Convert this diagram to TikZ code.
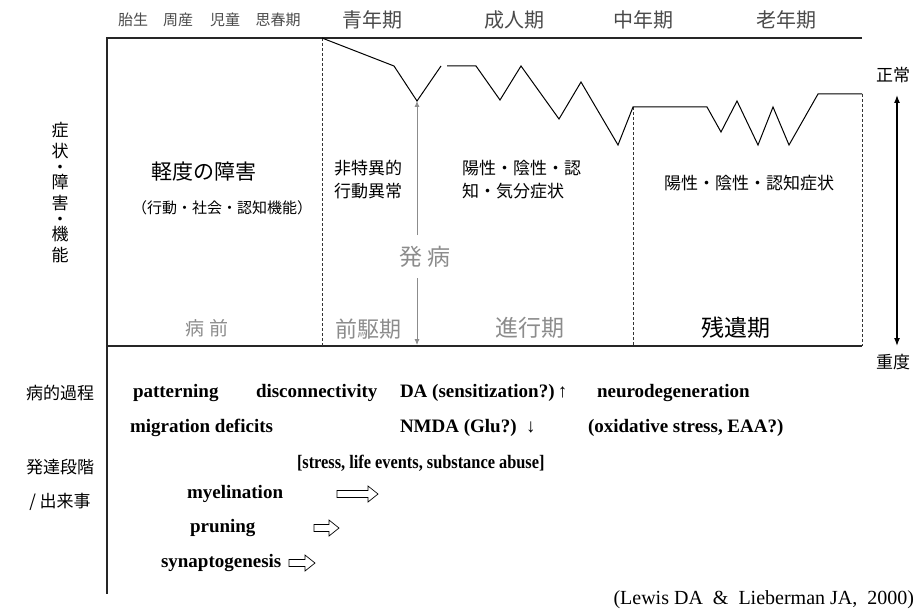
\documentclass[tikz,border=0pt]{standalone}
\usepackage{fontspec}
\setmainfont{Liberation Serif}
\newfontfamily\jpf{Noto Sans CJK JP}
\usetikzlibrary{arrows.meta}
\definecolor{lbl}{HTML}{8C8C8C}
\definecolor{hdr}{HTML}{4A4A4A}
\begin{document}
\begin{tikzpicture}[x=1pt,y=-1pt,
  every node/.style={inner sep=0pt, outer sep=0pt},
  axis/.style={line width=1.1pt, black!85},
  dsh/.style={line width=0.6pt, dash pattern=on 3pt off 2pt, black!80},
  curve/.style={line width=1pt, black},
  hsmall/.style={font=\jpf\fontsize{15}{18}\selectfont, text=hdr},
  hbig/.style={font=\jpf\fontsize{20}{24}\selectfont, text=hdr},
  jt/.style={font=\jpf\fontsize{17}{23}\selectfont},
  jbig/.style={font=\jpf\fontsize{21}{24}\selectfont},
  jphase/.style={font=\jpf\fontsize{22}{26}\selectfont, text=lbl},
  side/.style={font=\jpf\fontsize{17}{20}\selectfont},
  bt/.style={font=\bfseries\fontsize{19}{22}\selectfont, anchor=west},
  oarrow/.style={line width=0.7pt, fill=white}
]
\useasboundingbox (0,0) rectangle (920,615);

% axes
\coordinate (tl) at (107,38);
\coordinate (tr) at (862,38);
\coordinate (bl) at (107,346);
\coordinate (br) at (862,346);
\coordinate (lb) at (107,594);
\draw[axis] (tr) -- (tl) -- (lb);
\draw[axis] (bl) -- (br);

% dashed separators
\coordinate (d1t) at (322,38);  \coordinate (d1b) at (322,346);
\coordinate (d2t) at (633,107); \coordinate (d2b) at (633,346);
\coordinate (d3t) at (862,94);  \coordinate (d3b) at (862,346);
\draw[dsh] (d1t) -- (d1b);
\draw[dsh] (d2t) -- (d2b);
\draw[dsh] (d3t) -- (d3b);

% symptom curve
\coordinate (dip) at (417,101);
\draw[curve] (d1t) -- (394,66) -- (dip) -- (441,66);
\draw[curve] (447,66) -- (476,66) -- (500,100) -- (521,66) -- (559,119) -- (581,82)
  -- (618,145) -- (d2t) -- (707,107) -- (721,132) -- (737,101) -- (758,145)
  -- (773,107) -- (789,145) -- (818,94) -- (d3t);

% header
\node[hsmall] (h1) at (133,20) {胎生};
\node[hsmall] (h2) at (178,20) {周産};
\node[hsmall] (h3) at (225,20) {児童};
\node[hsmall] (h4) at (278,20) {思春期};
\node[hbig] (h5) at (372,20) {青年期};
\node[hbig] (h6) at (514,20) {成人期};
\node[hbig] (h7) at (643,20) {中年期};
\node[hbig] (h8) at (786,20) {老年期};

% left vertical label
\node[font=\jpf\fontsize{17}{21}\selectfont, align=center] (vlabel) at (60,193)
  {症\\状\\[-5.5pt]・\\[-5.5pt]障\\害\\[-5.5pt]・\\[-5.5pt]機\\能};

% severity arrow
\node[side] (norm) at (893,75) {正常};
\node[side] (sev) at (893,362) {重度};
\coordinate (sa) at (897,95);
\coordinate (sb) at (897,346);
\draw[line width=1.3pt, {Latex[length=8pt,width=6pt]}-{Latex[length=8pt,width=6pt]}] (sa) -- (sb);

% inner texts
\node[jbig] (mild) at (204,172) {軽度の障害};
\node[font=\jpf\fontsize{15}{18}\selectfont] (mildsub) at (222,208) {（行動・社会・認知機能）};
\node[jt, align=left, anchor=north west] (nonspec) at (334,160) {非特異的\\行動異常};
\node[jt, align=left, anchor=north west] (posneg) at (462,160) {陽性・陰性・認\\知・気分症状};
\node[jt] (resid) at (749,183) {陽性・陰性・認知症状};

% phase labels
\node[font=\jpf\fontsize{19}{22}\selectfont, text=lbl] (pre) at (207,328) {病 前};
\node[jphase] (prod) at (368,329) {前駆期};
\node[font=\jpf\fontsize{23}{26}\selectfont, text=lbl] (prog) at (530,328) {進行期};
\node[font=\jpf\fontsize{23}{26}\selectfont] (res) at (736,328) {残遺期};

% onset arrow
\node[font=\jpf\fontsize{23}{26}\selectfont, text=lbl] (onset) at (425,257) {発 病};
\coordinate (ona) at (417,235);
\coordinate (onb) at (417,278);
\coordinate (onbot) at (417,345);
\draw[lbl, line width=0.8pt, -{Latex[length=6pt,width=5pt]}] (ona) -- (dip);
\draw[lbl, line width=0.8pt, -{Latex[length=6pt,width=5pt]}] (onb) -- (onbot);

% pathological processes
\node[side] (pp) at (60,393) {病的過程};
\node[bt] (t1) at (133,393) {patterning};
\node[bt] (t2) at (256,393) {disconnectivity};
\node[bt] (t3) at (400,393) {DA (sensitization?)\,↑};
\node[bt] (t4) at (597,393) {neurodegeneration};
\node[bt] (t5) at (130,428) {migration deficits};
\node[bt] (t6) at (400,428) {NMDA (Glu?)\ \ ↓};
\node[bt] (t7) at (588,428) {(oxidative stress, EAA?)};

% developmental stage
\node[side] (ds1) at (60,467) {発達段階};
\node[side] (ds2) at (60,502) {/ 出来事};
\node[bt, xscale=0.86] (e1) at (297,463) {[stress, life events, substance abuse]};
\node[bt] (e2) at (187,494) {myelination};
\node[bt] (e3) at (190,528) {pruning};
\node[bt] (e4) at (161,563) {synaptogenesis};

% open arrows
\newcommand\openarrow[3]{%
  \draw[oarrow] (#1,#3-3.5) -- (#2-10,#3-3.5) -- (#2-10,#3-8) -- (#2,#3)
    -- (#2-10,#3+8) -- (#2-10,#3+3.5) -- (#1,#3+3.5) -- cycle;}
\openarrow{337}{378}{494}
\openarrow{314}{339}{528}
\openarrow{289}{315}{563}

% citation
\node[font=\fontsize{20}{22}\selectfont, anchor=east] (cite) at (914,600)
  {(Lewis DA\ \ \&\ \ Lieberman JA,\ \ 2000)};
\end{tikzpicture}
\end{document}
